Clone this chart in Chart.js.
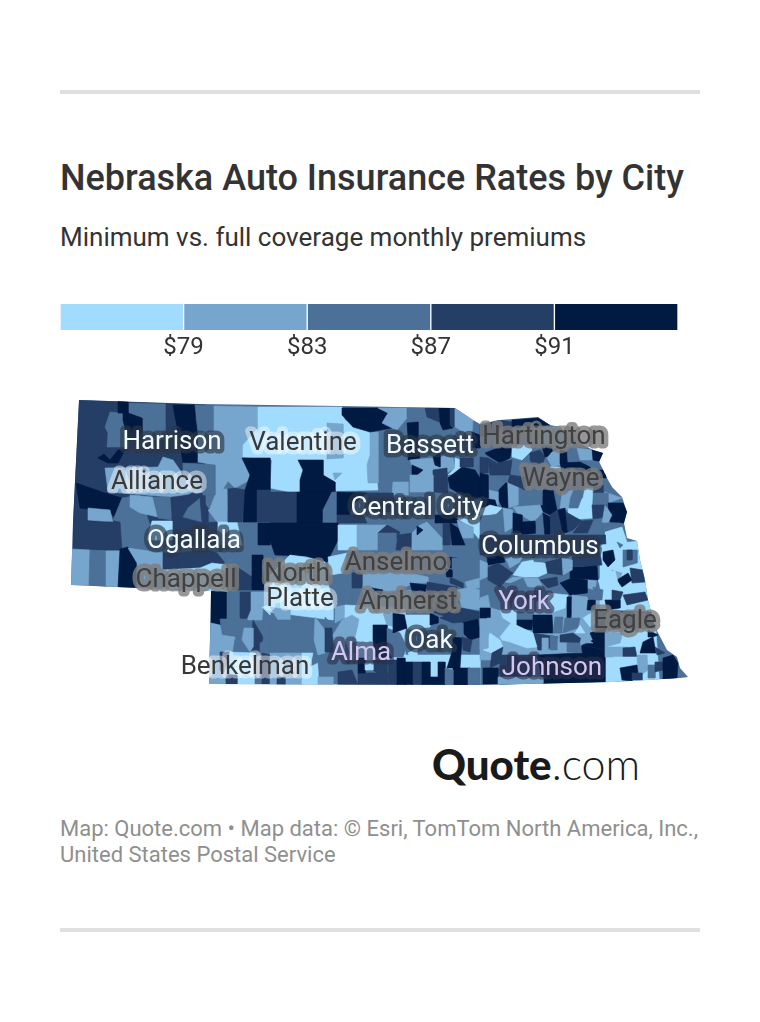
<!DOCTYPE html>
<html>
<head>
<meta charset="utf-8">
<title>Nebraska Auto Insurance Rates by City</title>
<script src="https://cdn.jsdelivr.net/npm/chart.js@4"></script>
<style>
  html, body { margin: 0; background: #fff; }
  body { width: 760px; height: 1022px; position: relative; overflow: hidden; font-family: Roboto, sans-serif; color: #333; }
  .rule { position: absolute; left: 60px; width: 640px; height: 4px; background: #e0e0e0; }
  .abs { position: absolute; left: 60px; white-space: nowrap; }
  #title { top: 157px; font-size: 36px; line-height: 42px; font-weight: 500; }
  #subtitle { top: 222px; font-size: 26px; line-height: 30px; }
  #legendBox { position: absolute; left: 56px; top: 304px; width: 626px; height: 60px; }
  #mapBox { position: absolute; left: 60px; top: 395px; width: 640px; height: 295px; }
  #logo { position: absolute; left: 432px; top: 739px; font-family: Lato, sans-serif; font-size: 42px; line-height: 50px; color: #1a1a1a; white-space: nowrap; }
  #logo b { font-weight: 900; }
  #logo span { font-weight: 300; font-size: 43px; }
  #credit { top: 816px; font-size: 22px; line-height: 26px; color: #8f8f8f; }
</style>
</head>
<body>
<div class="rule" style="top:90px"></div>
<div class="abs" id="title">Nebraska Auto Insurance Rates by City</div>
<div class="abs" id="subtitle">Minimum vs. full coverage monthly premiums</div>
<div id="legendBox"><canvas id="legend" width="626" height="60"></canvas></div>
<div id="mapBox"><canvas id="map" width="640" height="295"></canvas></div>
<div id="logo"><b>Quote</b><span>.com</span></div>
<div class="abs" id="credit">Map: Quote.com • Map data: © Esri, TomTom North America, Inc.,<br>United States Postal Service</div>
<div class="rule" style="top:928px"></div>
<script>
// rate bins, lightest to darkest
const binTicks = [79, 83, 87, 91];
const binColors = ['#a1dcff', '#76a5cd', '#4b7199', '#253e66', '#011a42'];

// state border, in map grid units
const stateBorder = [79,400, 200,404, 340,406, 455,408, 473,420, 480,424, 500,420, 538,417, 550,425, 560,427, 577,442, 593,450, 603,453, 599,462, 607,478, 612,487, 622,497, 627,512, 624,523, 627,538, 637,541, 640,560, 645,580, 648,600, 655,627, 667,650, 677,657, 680,668, 688,677, 680,678, 613,682, 480,685, 209,684, 211,591, 71,585, 73,522];

// [rate bin, outline...] painted in order, later ones on top
const regions = [
  [2, 60,395, 700,395, 700,690, 60,690],
  // panhandle north
  [3, 79,400, 205,405, 205,530, 73,522],
  [2, 105,427, 110,412, 123,413, 123,420, 128,440, 128,447, 107,447, 108,433],
  [2, 128,403, 166,404, 166,440, 142,440, 142,418, 128,413],
  [4, 118,401, 128,402, 128,413, 142,418, 142,440, 128,440, 123,420, 123,413, 118,413],
  [4, 98,458, 104,454, 110,460, 118,450, 125,450, 118,463, 108,463],
  [3, 166,404, 173,405, 178,432, 166,432],
  [4, 173,405, 195,405, 195,418, 198,433, 198,462, 183,463, 181,450, 178,432],
  [2, 195,405, 214,406, 214,432, 198,433],
  [1, 214,406, 258,407, 258,428, 243,445, 243,458, 250,472, 250,480, 235,488, 228,481, 223,489, 227,489, 228,510, 209,511, 215,495, 215,465, 198,462, 198,433, 214,432],
  [0, 258,407, 342,407, 345,420, 372,432, 378,490, 290,492, 270,488, 272,460, 243,457, 243,445, 258,428],
  [1, 327,423, 343,424, 343,458, 327,459],
  [1, 333,473, 342,473, 335,480],
  [4, 298,460, 323,460, 323,475, 335,482, 335,492, 300,492, 300,480, 303,470],
  [1, 370,432, 378,432, 378,483, 368,483, 367,465, 370,455],
  [4, 342,408, 378,408, 388,413, 382,423, 392,428, 370,432, 353,427, 342,415],
  [1, 378,408, 407,408, 407,418, 397,430, 392,428, 382,423, 388,413],
  [2, 407,408, 424,408, 425,417, 418,420, 407,418],
  [3, 425,408, 439,408, 439,422, 427,417],
  [4, 439,408, 450,408, 450,425, 453,428, 443,430, 440,423],
  [3, 450,408, 454,408, 454,427, 450,425],
  [1, 455,408, 473,420, 472,437, 455,427],
  [4, 407,423, 418,422, 418,440, 420,458, 408,460, 408,437],
  [1, 410,460, 433,458, 440,455, 453,458, 455,468, 447,473, 440,470, 425,480, 415,475],
  [4, 412,465, 423,470, 417,475, 412,475],
  [4, 433,457, 440,453, 440,467, 435,465],
  [0, 455,458, 462,460, 462,472, 448,475, 455,468],
  [4, 462,467, 475,470, 480,478, 480,498, 470,500, 450,488, 448,478],
  [3, 433,470, 447,468, 448,493, 433,492],
  [3, 460,458, 473,458, 473,467, 460,467],
  [4, 472,432, 480,435, 480,448, 473,448],
  [1, 393,482, 408,482, 408,495, 392,495],
  [1, 410,475, 433,475, 433,492, 410,492],
  [3, 270,492, 297,492, 297,523, 270,523],
  [4, 297,492, 332,492, 323,510, 323,523, 297,523],
  [2, 332,492, 337,492, 337,523, 323,523, 323,510],
  [4, 337,492, 367,493, 352,505, 350,515, 337,515],
  [3, 337,515, 363,515, 367,523, 337,523],
  [3, 367,493, 393,493, 393,512, 370,512],
  [4, 435,515, 457,515, 457,523, 435,523],
  [0, 457,518, 480,515, 480,540, 467,525],
  [1, 457,520, 473,527, 473,538, 462,538],
  [4, 270,523, 338,523, 338,540, 327,562, 306,556, 275,555, 270,540],
  [0, 338,525, 357,525, 357,550, 338,550],
  [1, 357,525, 387,525, 378,533, 378,550, 357,550],
  [3, 387,525, 400,532, 396,540, 378,533],
  [2, 378,533, 396,533, 396,552, 378,552],
  [3, 398,535, 412,533, 411,550, 396,550],
  [1, 412,533, 420,525, 427,522, 442,538, 442,550, 412,550],
  [4, 417,526, 423,530, 417,535],
  [3, 443,523, 450,523, 450,545, 443,545],
  [4, 450,523, 458,528, 465,545, 452,545],
  // panhandle middle
  [1, 105,468, 158,467, 163,457, 173,460, 180,470, 183,478, 200,478, 203,492, 170,497, 108,492],
  [2, 183,463, 215,465, 215,495, 203,495, 200,478, 183,478],
  [4, 76,483, 105,493, 122,498, 122,510, 115,517, 108,512, 80,508],
  [1, 88,508, 110,510, 113,522, 88,520],
  [2, 113,520, 122,498, 140,495, 150,525, 148,540, 122,545, 120,522],
  [1, 130,495, 153,497, 158,517, 140,513, 130,507],
  [2, 153,497, 170,497, 172,520, 158,518],
  [3, 172,497, 185,498, 193,492, 200,497, 188,508, 185,517, 172,517],
  [2, 188,508, 200,498, 202,522, 183,517],
  [3, 200,497, 208,508, 208,522, 202,522],
  [1, 208,510, 227,508, 227,522, 217,522],
  [0, 217,522, 237,522, 242,545, 217,545],
  [3, 228,489, 235,488, 245,490, 242,522, 228,522],
  [4, 242,458, 270,458, 270,490, 257,490, 257,522, 243,522, 245,490, 250,475],
  [3, 257,490, 270,490, 270,522, 257,522],
  [3, 73,522, 120,522, 122,550, 73,550],
  [3, 172,517, 187,520, 195,523, 217,522, 217,545, 172,545],
  [0, 152,521, 172,521, 172,540, 147,540],
  [4, 258,523, 270,523, 270,545, 258,545],
  // panhandle south
  [1, 72,549, 90,550, 89,585, 71,585],
  [2, 90,550, 106,551, 106,587, 89,585],
  [1, 106,551, 120,551, 118,588, 106,587],
  [4, 120,549, 128,547, 137,562, 137,588, 118,588],
  [1, 128,548, 163,553, 163,570, 137,563],
  [1, 137,563, 163,570, 163,590, 137,588],
  [3, 163,553, 177,553, 177,570, 163,570],
  [3, 177,553, 207,550, 200,567, 177,570],
  [3, 207,550, 217,553, 225,563, 212,565, 200,568],
  [0, 163,570, 200,568, 212,563, 227,565, 227,592, 163,590],
  [2, 225,550, 235,557, 237,567, 225,565],
  [2, 235,557, 250,555, 252,575, 238,568],
  [3, 237,567, 252,577, 252,590, 227,590, 227,565],
  [4, 252,555, 263,555, 265,590, 252,590],
  [2, 263,565, 270,563, 270,580, 265,590],
  // southwest
  [4, 211,591, 227,592, 227,625, 220,625, 211,623],
  [2, 227,592, 240,592, 240,618, 227,619],
  [3, 240,592, 251,592, 251,610, 247,620, 240,618],
  [1, 251,592, 270,592, 270,607, 263,608, 262,620, 247,620, 251,610],
  [2, 220,619, 247,619, 253,637, 222,635],
  [1, 211,623, 220,625, 222,635, 235,637, 233,652, 209,652],
  [3, 253,620, 263,637, 260,653, 250,652],
  [1, 244,628, 253,628, 253,647, 250,652, 242,640],
  [2, 235,640, 242,652, 233,652],
  [2, 263,622, 270,627, 270,638, 263,637],
  [2, 260,643, 270,638, 270,655, 260,653],
  [1, 209,652, 220,652, 220,684, 209,684],
  [3, 220,652, 230,652, 227,673, 220,673],
  [0, 230,652, 255,653, 255,684, 237,684, 237,675, 225,673],
  [1, 209,667, 225,673, 226,684, 209,684],
  [3, 226,675, 237,675, 237,684, 226,684],
  [2, 255,673, 262,673, 262,684, 255,684],
  [3, 262,653, 270,655, 270,684, 262,684],
  // south central
  [0, 270,575, 290,555, 305,557, 325,562, 328,583, 333,603, 333,620, 270,612],
  [0, 262,607, 270,605, 270,615],
  [1, 335,607, 345,605, 350,615, 335,623],
  [0, 328,557, 347,553, 343,573, 330,575],
  [2, 347,555, 410,555, 410,573, 347,573],
  [2, 338,575, 352,573, 352,605, 345,605, 338,595],
  [3, 352,573, 363,572, 362,588, 352,588],
  [1, 363,572, 410,573, 410,585, 390,593, 363,588],
  [1, 363,590, 390,595, 410,590, 427,610, 395,610, 365,605],
  [4, 372,588, 383,590, 381,595],
  [0, 345,605, 405,608, 405,660, 345,660],
  [1, 270,607, 290,610, 290,620, 278,620],
  [2, 270,620, 315,620, 315,637, 312,653, 287,653, 273,647, 270,633],
  [2, 325,617, 335,628, 333,653, 325,653],
  [1, 315,617, 325,630, 325,653, 318,655, 314,640],
  [3, 325,628, 332,628, 333,652, 325,652],
  [1, 270,653, 302,653, 302,685, 270,685],
  [3, 277,677, 285,677, 285,685, 277,685],
  [0, 302,653, 313,653, 310,667, 318,663, 318,685, 302,685],
  [2, 318,663, 335,663, 333,673, 320,677],
  [1, 318,677, 333,677, 333,685, 318,685],
  [3, 338,672, 352,670, 358,685, 338,685],
  [1, 342,620, 352,615, 360,620, 355,637, 357,653, 337,653, 333,635],
  [0, 360,617, 372,620, 373,640, 373,655, 357,657, 356,637],
  [1, 383,613, 393,613, 397,627, 387,625],
  [4, 373,625, 387,625, 387,647, 392,658, 375,657, 373,640],
  [2, 387,628, 400,633, 407,647, 403,657, 392,657, 387,643],
  [4, 393,613, 405,615, 407,628, 393,633],
  [0, 405,615, 430,615, 430,627, 408,630],
  [4, 430,613, 438,617, 438,623, 430,625],
  [2, 407,630, 455,630, 455,652, 410,652],
  [0, 408,653, 418,648, 417,662, 410,657],
  [2, 418,648, 428,648, 428,660, 418,660],
  [0, 405,655, 480,655, 480,685, 405,685],
  [4, 453,637, 462,638, 460,668, 447,668, 452,652],
  [4, 463,622, 478,618, 480,637, 470,640, 463,633],
  [2, 453,625, 463,623, 463,635, 453,637],
  [3, 462,637, 472,640, 470,652, 463,650],
  [4, 453,668, 470,668, 468,685, 453,685],
  [3, 388,660, 397,660, 398,685, 389,685],
  [4, 397,658, 405,658, 405,685, 397,685],
  [4, 405,662, 413,662, 413,685, 405,685],
  [3, 413,662, 422,662, 422,685, 413,685],
  [4, 422,662, 430,662, 430,677, 438,677, 438,662, 445,662, 445,685, 422,685],
  [2, 445,668, 453,670, 453,685, 445,685],
  [2, 468,668, 480,668, 480,685, 468,685],
  [3, 358,673, 388,673, 388,685, 358,685],
  [3, 373,660, 387,660, 387,673, 380,675, 373,670],
  [4, 358,658, 365,658, 365,673, 358,673],
  [0, 365,663, 373,663, 373,670, 365,670],
  [4, 447,557, 458,558, 457,570, 448,567],
  [2, 452,558, 472,557, 473,570, 465,582, 452,573],
  [4, 445,568, 452,570, 452,577, 445,577],
  [3, 450,577, 463,583, 463,588, 450,583],
  [1, 465,582, 480,578, 480,588, 467,588],
  [2, 430,570, 445,570, 447,582, 430,582],
  [1, 410,573, 428,577, 428,583, 410,583],
  [4, 410,583, 427,585, 425,592, 412,590],
  [3, 427,582, 457,587, 455,607, 447,617, 427,610],
  [1, 457,590, 472,587, 480,590, 480,610, 462,608],
  [3, 440,618, 462,608, 480,612, 480,618, 463,622, 453,623],
  // northeast
  [3, 480,425, 500,420, 512,422, 512,430, 480,437],
  [4, 512,420, 538,418, 550,425, 533,428, 512,427],
  [1, 533,427, 560,427, 577,442, 570,447, 537,443],
  [2, 480,438, 537,428, 537,445, 493,448, 483,452],
  [3, 480,457, 488,458, 488,473, 480,473],
  [4, 485,453, 500,447, 512,448, 510,458, 500,463, 487,455],
  [0, 512,445, 530,445, 532,450, 522,460, 512,457],
  [3, 530,453, 540,450, 545,457, 543,463, 533,465, 530,460],
  [4, 542,447, 552,447, 552,455, 545,457],
  [1, 552,452, 560,450, 560,465, 552,467, 547,458],
  [4, 560,450, 568,452, 568,463, 560,463],
  [2, 567,450, 577,450, 578,463, 568,463],
  [1, 577,448, 592,450, 593,460, 580,460],
  [4, 592,448, 603,453, 602,462, 593,460],
  [2, 593,462, 602,462, 605,470, 595,470],
  [4, 560,463, 580,462, 590,467, 590,472, 562,470],
  [4, 598,470, 606,470, 606,478, 598,478],
  [2, 522,465, 600,473, 598,487, 570,492, 530,490, 522,478],
  [0, 550,467, 560,467, 560,473],
  [2, 603,478, 612,487, 603,492],
  [3, 593,487, 603,485, 603,493, 592,493],
  [1, 605,492, 622,498, 608,503, 595,503],
  [2, 593,493, 608,493, 608,503, 592,505],
  [0, 585,488, 593,488, 592,505, 593,518, 568,520, 568,508, 583,498],
  [3, 592,505, 606,505, 606,517, 593,519],
  [4, 608,503, 623,503, 627,512, 624,523, 610,522],
  [1, 605,505, 612,515, 608,523, 602,523],
  [2, 570,498, 582,497, 578,508, 569,508],
  [1, 562,493, 573,490, 570,498, 568,510, 560,508],
  [4, 543,490, 553,490, 557,510, 550,515, 540,510],
  [2, 522,490, 542,490, 542,505, 525,505],
  [1, 507,483, 518,487, 518,505, 508,508],
  [4, 500,483, 507,483, 508,508, 502,507, 498,498],
  [2, 488,475, 505,475, 505,483, 498,490, 490,490],
  [1, 489,490, 498,492, 498,505, 490,502],
  [3, 488,458, 497,463, 512,460, 510,475, 490,475],
  [3, 510,475, 525,477, 525,490, 508,482],
  [4, 480,473, 488,475, 488,498, 480,498],
  [4, 482,498, 495,500, 497,507, 482,507],
  [0, 480,510, 490,505, 502,508, 495,515, 480,515],
  [2, 480,517, 503,513, 503,535, 480,535],
  [1, 503,508, 513,510, 512,528, 505,532],
  [1, 513,507, 540,505, 543,513, 533,522, 517,513],
  [4, 513,513, 522,515, 522,533, 513,533],
  [4, 522,522, 535,521, 536,533, 522,535],
  [2, 537,520, 543,512, 543,535, 536,533],
  [4, 543,513, 550,517, 550,537, 545,537],
  [3, 550,515, 558,510, 563,533, 551,537],
  [4, 558,510, 565,508, 568,532, 563,533],
  [3, 566,512, 582,521, 573,530, 568,532],
  [3, 582,521, 593,520, 588,533, 573,533],
  [2, 588,533, 595,520, 603,523, 603,535, 600,540, 588,538],
  [2, 603,523, 620,523, 612,533, 603,530],
  [0, 605,532, 622,527, 628,545, 607,545],
  // southeast
  [2, 480,535, 605,535, 605,600, 480,600],
  [3, 480,535, 605,535, 605,555, 480,555],
  [1, 480,600, 610,600, 610,660, 480,660],
  [0, 600,545, 650,540, 660,690, 600,690],
  [4, 582,645, 605,650, 605,682, 543,684, 537,655, 580,653],
  [3, 500,655, 537,655, 530,683, 500,685],
  [4, 603,552, 613,550, 615,560, 608,567, 603,560],
  [2, 623,550, 637,550, 637,563, 623,567],
  [2, 617,542, 623,545, 620,548],
  [3, 627,550, 632,550, 632,560, 627,560],
  [1, 612,570, 622,573, 618,583, 613,582],
  [3, 630,568, 643,570, 645,582, 632,583],
  [4, 617,580, 628,573, 632,580, 622,587],
  [0, 598,580, 615,570, 618,583, 613,593, 602,592],
  [1, 583,578, 597,578, 595,590, 587,588],
  [4, 570,567, 583,567, 597,565, 598,580, 570,578],
  [3, 572,557, 600,553, 602,565, 573,567],
  [3, 543,563, 562,558, 563,575, 547,573],
  [1, 562,558, 572,560, 572,570, 563,575],
  [4, 560,583, 572,578, 587,580, 587,593, 570,595],
  [4, 487,557, 503,555, 505,562, 488,565],
  [3, 487,568, 498,563, 513,573, 500,587, 488,580],
  [0, 513,575, 522,562, 533,560, 538,577, 523,577],
  [1, 505,557, 522,557, 520,562, 510,568],
  [1, 513,577, 538,578, 543,587, 530,587, 505,582],
  [3, 540,580, 557,577, 558,585, 548,588],
  [1, 480,560, 487,563, 487,577, 480,580],
  [0, 533,562, 545,563, 547,573, 538,577],
  [0, 548,593, 568,595, 565,608, 553,612, 548,603],
  [2, 487,593, 500,588, 523,578, 532,597, 517,610, 500,610, 490,607],
  [1, 480,598, 488,595, 490,607, 480,608],
  [4, 480,608, 490,608, 490,618, 480,618],
  [1, 487,618, 500,618, 493,630, 485,630],
  [0, 500,610, 517,610, 515,637, 502,640, 500,637, 511,623, 503,618],
  [2, 517,612, 533,613, 533,620, 517,620],
  [4, 517,620, 533,620, 532,630, 517,628],
  [4, 533,615, 552,615, 553,633, 533,633],
  [2, 555,617, 563,617, 562,633, 553,633],
  [4, 567,597, 572,597, 571,618, 567,618],
  [1, 572,595, 587,597, 593,610, 577,615, 572,610],
  [2, 565,618, 580,618, 578,628, 563,633],
  [0, 575,633, 580,625, 585,633],
  [4, 588,600, 595,600, 595,610, 587,610],
  [4, 605,600, 620,600, 620,608, 607,610],
  [3, 612,590, 623,592, 620,600, 612,600],
  [3, 623,595, 645,592, 648,600, 627,605],
  [2, 593,587, 603,590, 602,600, 595,600],
  [3, 595,610, 653,612, 655,628, 595,630],
  [0, 583,618, 593,612, 595,623, 590,627],
  [4, 590,633, 605,628, 605,650, 583,645, 593,640],
  [3, 533,633, 558,637, 548,650, 538,650],
  [1, 542,638, 548,638, 548,653, 542,653],
  [2, 550,635, 557,637, 557,650, 550,650],
  [3, 560,635, 573,633, 583,640, 580,643, 560,642],
  [1, 558,643, 567,643, 566,650, 558,650],
  [2, 567,643, 580,643, 582,653, 567,652],
  [1, 582,635, 593,643, 580,643],
  [0, 512,623, 533,633, 537,647, 527,648, 510,642, 502,640],
  [0, 490,633, 500,640, 503,647, 492,653, 483,650],
  [1, 480,630, 488,635, 488,648, 480,650],
  [3, 492,653, 503,647, 500,663, 490,668],
  [4, 483,668, 498,668, 498,684, 483,684],
  [1, 498,677, 543,677, 543,685, 498,685],
  [1, 605,632, 623,633, 620,643, 605,647],
  [0, 622,635, 647,633, 640,645, 623,643],
  [1, 605,647, 627,647, 633,657, 605,657],
  [3, 623,648, 635,647, 637,657, 623,657],
  [4, 643,642, 653,637, 656,653, 640,653],
  [4, 648,630, 658,635, 653,637, 648,637],
  [3, 655,647, 665,653, 657,655],
  [0, 613,657, 637,657, 637,665, 620,667],
  [1, 637,655, 647,655, 648,670, 638,677],
  [4, 620,668, 637,665, 638,673, 632,681, 622,680],
  [2, 648,665, 655,665, 655,678, 648,678],
  [3, 655,662, 663,662, 663,670, 655,672],
  [4, 663,658, 673,655, 678,663, 677,678, 663,680],
  [3, 632,673, 642,673, 642,680, 632,680]
];

// city labels
const cityNames = ['Harrison', 'Valentine', 'Bassett', 'Hartington', 'Alliance', 'Wayne', 'Central City', 'Ogallala', 'Columbus', 'Chappell', 'Anselmo', 'North', 'Platte', 'Amherst', 'York', 'Eagle', 'Oak', 'Alma', 'Benkelman', 'Johnson'];
const cityX = [172, 303, 430, 544, 157, 561, 417, 194, 540, 186, 396, 297, 300, 408, 524, 625, 430, 361, 245, 552];
const cityY = [442, 443, 446, 437, 482, 479, 508, 541, 547, 580, 563, 574, 599, 602, 602, 621, 641, 653, 667, 668];
const cityTone = ['w', 'd', 'w', 'g', 'd', 'g', 'w', 'w', 'w', 'g', 'g', 'g', 'd', 'g', 'l', 'g', 'w', 'l', 'd', 'l'];

const toneText = { w: '#f4fbff', d: '#383838', g: '#404040', l: '#cfc8f5' };
const toneHalo = { w: 'rgba(45,55,70,0.65)', d: 'rgba(255,255,255,0.45)', g: 'rgba(125,125,125,0.8)', l: 'rgba(45,45,70,0.6)' };

function pairs(flat) {
  const pts = [];
  for (let i = 0; i < flat.length; i += 2) pts.push({ x: flat[i], y: flat[i + 1] });
  pts.push({ x: flat[0], y: flat[1] });
  return pts;
}

const mapPlugin = {
  id: 'mapPlugin',
  beforeDatasetsDraw(chart) {
    const { ctx, scales } = chart;
    ctx.save();
    ctx.beginPath();
    pairs(stateBorder).forEach(p => ctx.lineTo(scales.x.getPixelForValue(p.x), scales.y.getPixelForValue(p.y)));
    ctx.clip();
  },
  afterDatasetsDraw(chart) {
    const { ctx, scales } = chart;
    ctx.restore();
    ctx.save();
    ctx.font = '26px Roboto';
    ctx.textAlign = 'center';
    ctx.textBaseline = 'middle';
    ctx.lineJoin = 'round';
    cityNames.forEach((name, i) => {
      const px = scales.x.getPixelForValue(cityX[i]);
      const py = scales.y.getPixelForValue(cityY[i]);
      ctx.lineWidth = 9;
      ctx.strokeStyle = toneHalo[cityTone[i]];
      ctx.strokeText(name, px, py);
      ctx.fillStyle = toneText[cityTone[i]];
      ctx.fillText(name, px, py);
    });
    ctx.restore();
  }
};

// Chart draws dataset 0 last, so flip to keep the paint order
const mapDatasets = regions.map(r => ({
  data: pairs(r.slice(1)),
  showLine: true,
  fill: 'shape',
  backgroundColor: binColors[r[0]],
  borderColor: binColors[r[0]],
  borderWidth: 0.6,
  pointRadius: 0,
  tension: 0
})).reverse();

new Chart(document.getElementById('map'), {
  type: 'scatter',
  data: { datasets: mapDatasets },
  options: {
    responsive: false,
    animation: false,
    layout: { padding: 0 },
    plugins: { legend: { display: false }, tooltip: { enabled: false } },
    scales: {
      x: { type: 'linear', display: false, min: 60, max: 700 },
      y: { type: 'linear', display: false, min: 395, max: 690, reverse: true }
    }
  },
  plugins: [mapPlugin]
});

// legend: five equal bins on a dollar axis
new Chart(document.getElementById('legend'), {
  type: 'bar',
  data: {
    labels: ['rate'],
    datasets: binColors.map(c => ({
      data: [4],
      backgroundColor: c,
      borderColor: '#fff',
      borderWidth: { left: 1, right: 1, top: 0, bottom: 0 },
      borderSkipped: false,
      barPercentage: 1,
      categoryPercentage: 1
    }))
  },
  options: {
    indexAxis: 'y',
    responsive: false,
    animation: false,
    layout: { padding: 0 },
    plugins: { legend: { display: false }, tooltip: { enabled: false } },
    scales: {
      y: { display: false, stacked: true },
      x: {
        stacked: true,
        min: 0,
        max: 20,
        afterFit: s => { s.height = 34; },
        border: { display: false },
        grid: { display: false, drawTicks: false },
        ticks: {
          stepSize: 4,
          maxRotation: 0,
          autoSkip: false,
          padding: 4,
          color: '#333',
          font: { family: 'Roboto', size: 24 },
          callback: (v, i) => binTicks[i - 1] ? '$' + binTicks[i - 1] : ''
        }
      }
    }
  }
});
</script>
</body>
</html>
